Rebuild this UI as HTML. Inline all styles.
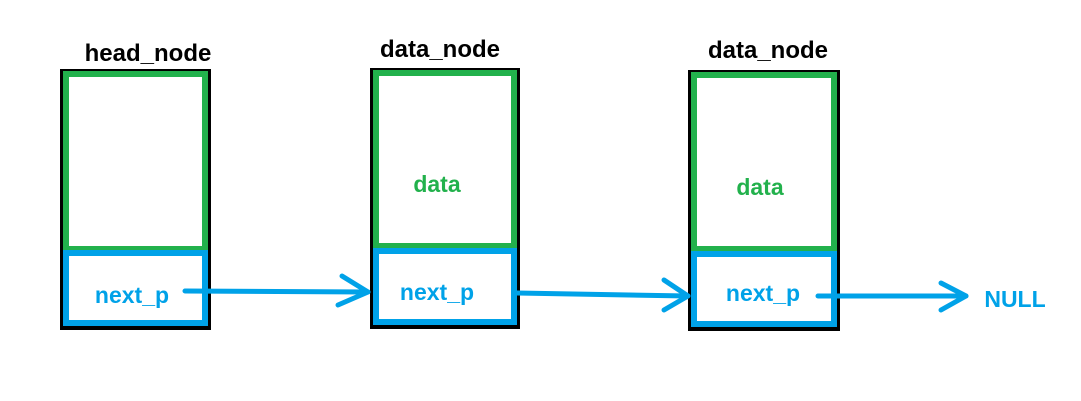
<!DOCTYPE html>
<html><head><style>body{margin:0;background:#fff}svg{display:block}</style></head>
<body>
<svg width="1081" height="401" viewBox="0 0 1081 401" xmlns="http://www.w3.org/2000/svg" font-family="Liberation Sans, sans-serif" font-weight="bold">
<g fill="none">
<rect x="62" y="71" width="147" height="257" stroke="#000" stroke-width="4"/>
<rect x="66" y="74" width="139" height="175" stroke="#22b14c" stroke-width="6"/>
<rect x="66" y="253" width="139" height="70" stroke="#00a2e8" stroke-width="6"/>
<rect x="372" y="70" width="146" height="257" stroke="#000" stroke-width="4"/>
<rect x="376" y="73" width="138" height="173" stroke="#22b14c" stroke-width="6"/>
<rect x="376" y="251" width="138" height="71" stroke="#00a2e8" stroke-width="6"/>
<rect x="690" y="72" width="148" height="257" stroke="#000" stroke-width="4"/>
<rect x="694" y="75" width="140" height="174" stroke="#22b14c" stroke-width="6"/>
<rect x="694" y="254" width="140" height="70" stroke="#00a2e8" stroke-width="6"/>
<g stroke="#00a2e8" stroke-width="5" stroke-linecap="round" stroke-linejoin="round">
<path d="M185 291 L368 292"/><path d="M342 276 L368 292 L338 305"/>
<path d="M517 293 L688 296"/><path d="M664 280 L688 296 L664 310"/>
<path d="M818 296 L966 296"/><path d="M941 283 L966 296 L941 310"/>
</g>
</g>
<g text-anchor="middle">
<text x="148" y="61" fill="#000" font-size="24">head_node</text>
<text x="440" y="57" fill="#000" font-size="24">data_node</text>
<text x="768" y="58" fill="#000" font-size="24">data_node</text>
<text x="437" y="192" fill="#22b14c" font-size="23">data</text>
<text x="760" y="195" fill="#22b14c" font-size="23">data</text>
<text x="132" y="303" fill="#00a2e8" font-size="23">next_p</text>
<text x="437" y="300" fill="#00a2e8" font-size="23">next_p</text>
<text x="763" y="301" fill="#00a2e8" font-size="23">next_p</text>
<text x="1015" y="307" fill="#00a2e8" font-size="23">NULL</text>
</g>
</svg>
</body></html>
